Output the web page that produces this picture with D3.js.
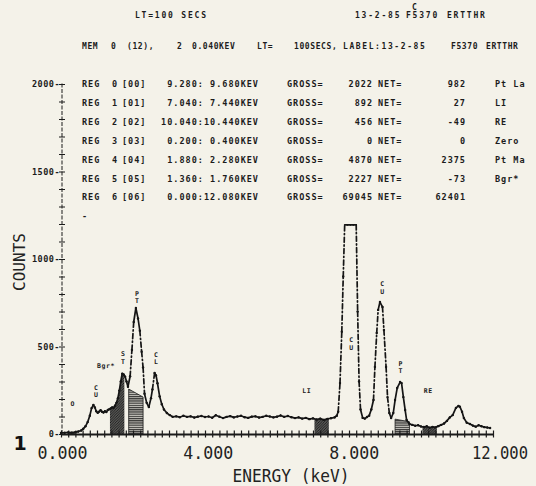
<!DOCTYPE html>
<html>
<head>
<meta charset="utf-8">
<script src="https://cdn.jsdelivr.net/npm/d3@7"></script>
<style>
  body { margin: 0; background: #f4f2e9; }
  svg { display: block; }
  .small { font-family: "DejaVu Sans Mono", monospace; font-weight: bold; font-size: 8.5px; letter-spacing: 1px; fill: #1c1c1c; white-space: pre; }
  .head { font-size: 8px; letter-spacing: 0.6px; }
  .wide { font-size: 8px; letter-spacing: 1.6px; }
  .top { font-size: 8px; letter-spacing: 1.8px; }
  .mark { font-size: 6.5px; letter-spacing: 0px; }
  .big { font-family: "DejaVu Sans Mono", monospace; fill: #222; }
</style>
</head>
<body>
<div id="chart"></div>
<script>
// spectrum: energy (keV) and counts per channel
const energy = [0.00,0.10,0.20,0.30,0.40,0.48,0.56,0.62,0.68,0.74,0.80,0.85,0.90,0.94,0.98,1.02,1.06,1.10,1.14,1.18,
  1.22,1.26,1.30,1.34,1.38,1.42,1.46,1.50,1.54,1.58,1.62,1.66,1.70,1.74,1.78,1.82,1.86,1.92,1.97,2.02,
  2.08,2.14,2.19,2.24,2.28,2.32,2.38,2.44,2.50,2.54,2.60,2.64,2.68,2.74,2.80,2.86,2.94,3.02,3.10,3.2,
  3.3,3.4,3.5,3.6,3.7,3.8,3.9,4.0,4.1,4.2,4.3,4.4,4.5,4.6,4.7,4.8,4.9,5.0,5.1,5.2,
  5.3,5.4,5.5,5.6,5.7,5.8,5.9,6.0,6.1,6.2,6.3,6.4,6.5,6.6,6.7,6.8,6.9,7.0,7.1,7.2,
  7.3,7.4,7.5,7.6,7.66,7.70,7.75,7.80,7.84,7.88,7.96,8.04,8.12,8.20,8.24,8.28,8.32,8.38,8.44,8.50,
  8.56,8.62,8.68,8.72,8.77,8.81,8.86,8.93,8.97,9.03,9.07,9.12,9.17,9.23,9.28,9.34,9.42,9.46,9.51,9.56,
  9.60,9.68,9.76,9.84,9.92,10.00,10.08,10.16,10.24,10.32,10.40,10.48,10.56,10.64,10.72,10.80,10.88,10.97,11.04,11.08,
  11.14,11.19,11.27,11.36,11.44,11.52,11.60,11.68,11.76,11.84,11.92];
const counts = [6,7,9,8,11,14,20,30,44,68,104,148,166,152,130,121,128,136,127,123,
  130,126,137,141,146,152,150,162,178,205,248,300,345,340,328,300,270,330,480,640,
  720,660,590,470,380,230,178,154,205,255,349,335,290,215,170,140,120,108,98,101,
  96,104,98,101,94,99,103,97,100,93,107,99,91,98,102,95,100,104,96,92,
  99,101,94,98,104,100,95,99,106,98,103,96,91,95,88,92,85,89,83,88,
  81,86,90,95,104,127,291,585,900,1500,2400,2800,2500,1600,700,300,140,92,88,97,
  105,140,194,383,577,709,754,726,594,383,211,120,91,120,194,263,297,291,211,137,
  80,57,52,47,50,43,40,44,36,41,38,45,52,60,75,95,108,149,160,156,
  127,91,65,57,48,42,50,44,39,37,34];
// the plotter clips the trace at this height
const displayMax = 1195;

// regions of interest (table rows)
const regLow = [9.28, 7.04, 10.04, 0.20, 1.88, 1.36, 0.00];
const regHigh = [9.68, 7.44, 10.44, 0.40, 2.28, 1.76, 12.08];
const regGross = [2022, 892, 456, 0, 4870, 2227, 69045];
const regNet = [982, 27, -49, 0, 2375, -73, 62401];
const regLabel = ["Pt La", "LI", "RE", "Zero", "Pt Ma", "Bgr*", ""];
const regShade = ["lines", "dark", "dark", "dark", "lines", "dark", "none"];
// top of the line-hatched peak windows, counts at low and high edge
const hatchTopLow = [85, 0, 0, 0, 257, 0, 0];
const hatchTopHigh = [70, 0, 0, 0, 211, 0, 0];

// element markers written on the trace
const peakNames = ["O", "CU", "Bgr*", "ST", "PT", "CL", "LI", "CU", "CU", "PT", "RE"];
const peakKeV = [0.33, 0.97, 1.25, 1.72, 2.11, 2.64, 6.83, 8.06, 8.92, 9.43, 10.2];
const peakCounts = [177, 246, 394, 440, 783, 437, 251, 520, 840, 383, 251];
const peakStacked = [false, true, false, true, true, true, false, true, true, true, false];

const xLabels = [0, 4, 8, 12];
const yLabels = [0, 500, 1000, 1500, 2000];

const width = 536;
const height = 486;

const svg = d3.select("#chart")
    .append("svg")
    .attr("width", width)
    .attr("height", height);

svg.append("rect").attr("width", width).attr("height", height).attr("fill", "#f4f2e9");

const xScale = d3.scaleLinear().domain([0, 12]).range([61, 493]);
const yScale = d3.scaleLinear().domain([0, 2000]).range([434, 84]);
// the tick numbers sit on a slightly wider grid than the trace
const xLabelScale = d3.scaleLinear().domain([0, 12]).range([62.5, 500]);

// hatch patterns
const defs = svg.append("defs");
const diag = defs.append("pattern").attr("id", "diag")
    .attr("patternUnits", "userSpaceOnUse").attr("width", 2.6).attr("height", 2.6);
diag.append("rect").attr("width", 2.6).attr("height", 2.6).attr("fill", "#6d6d6a");
diag.append("path").attr("d", "M-1,1 L1,-1 M0,2.6 L2.6,0 M1.6,3.6 L3.6,1.6")
    .attr("stroke", "#151515").attr("stroke-width", 0.9);
const horiz = defs.append("pattern").attr("id", "horiz")
    .attr("patternUnits", "userSpaceOnUse").attr("width", 4).attr("height", 2.2);
horiz.append("rect").attr("width", 4).attr("height", 2.2).attr("fill", "#c9c7c0");
horiz.append("line").attr("x1", 0).attr("x2", 4).attr("y1", 0.6).attr("y2", 0.6)
    .attr("stroke", "#1a1a1a").attr("stroke-width", 1);

// small helper for the printer text
const put = (sel, x, y, t, extra) => sel.append("text")
    .attr("class", extra ? "small " + extra : "small")
    .attr("x", x).attr("y", y).text(t);

// ---- header text ----
put(svg, 135, 18, "LT=100 SECS", "top");
put(svg, 355, 18, "13-2-85", "top");
put(svg, 406, 18, "F5370", "top");
put(svg, 447, 18, "ERTTHR", "top");
put(svg, 412, 10, "C", "top");

put(svg, 82, 49, "MEM", "head");
put(svg, 111, 49, "0", "head");
put(svg, 127, 49, "(12),", "head");
put(svg, 177, 49, "2", "head");
put(svg, 192, 49, "0.040KEV", "head");
put(svg, 257, 49, "LT=", "head");
put(svg, 294, 49, "100SECS,", "head");
put(svg, 343, 49, "LABEL:13-2-85", "wide");
put(svg, 451, 49, "F5370", "head");
put(svg, 486, 49, "ERTTHR", "head");

// ---- region table ----
const fmt3 = d3.format(".3f");
const rowY = i => 87 + i * 18.9;
const table = svg.append("g");
regLow.forEach((lo, i) => {
    const yy = rowY(i);
    put(table, 82, yy, "REG");
    put(table, 112, yy, String(i));
    put(table, 122, yy, `[0${i}]`);
    put(table, 259, yy, fmt3(lo).padStart(6) + ":" + fmt3(regHigh[i]).padStart(6) + "KEV").attr("text-anchor", "end");
    put(table, 287, yy, "GROSS=");
    put(table, 373, yy, String(regGross[i])).attr("text-anchor", "end");
    put(table, 378, yy, "NET=");
    put(table, 466, yy, String(regNet[i])).attr("text-anchor", "end");
    put(table, 495, yy, regLabel[i]);
});
put(svg, 82, rowY(7), "-");

// ---- shaded windows ----
const spectrum = energy.map((e, i) => ({ e: e, c: Math.min(counts[i], displayMax) }));
const areaGen = d3.area()
    .x(d => xScale(d.e))
    .y0(yScale(0))
    .y1(d => yScale(d.c));

const roiG = svg.append("g");
regLow.forEach((lo, i) => {
    if (regShade[i] === "dark") {
        defs.append("clipPath").attr("id", "roi-" + i)
            .append("rect")
            .attr("x", xScale(lo)).attr("y", 0)
            .attr("width", xScale(regHigh[i]) - xScale(lo)).attr("height", yScale(0));
        roiG.append("path")
            .attr("d", areaGen(spectrum))
            .attr("fill", "url(#diag)")
            .attr("clip-path", `url(#roi-${i})`);
    } else if (regShade[i] === "lines") {
        roiG.append("path")
            .attr("d", areaGen([{ e: lo, c: hatchTopLow[i] }, { e: regHigh[i], c: hatchTopHigh[i] }]))
            .attr("fill", "url(#horiz)")
            .attr("stroke", "#1a1a1a")
            .attr("stroke-width", 0.8);
    }
});

// ---- axes ----
const bottomAxis = d3.axisBottom(xScale)
    .tickValues(d3.range(0, 61).map(k => k * 0.2))
    .tickSize(3.5)
    .tickSizeOuter(0)
    .tickFormat("");
const xAxisG = svg.append("g")
    .attr("transform", `translate(0, ${yScale(0)})`)
    .call(bottomAxis);
xAxisG.select(".domain").attr("stroke", "#1a1a1a").attr("stroke-width", 1.8);
xAxisG.selectAll(".tick line").attr("y1", -3.5).attr("y2", 3.5)
    .attr("stroke", "#1a1a1a").attr("stroke-width", 1.2);

const leftAxis = d3.axisLeft(yScale)
    .tickValues(d3.range(0, 21).map(k => k * 100))
    .tickSize(3)
    .tickSizeOuter(0)
    .tickPadding(1)
    .tickFormat(d => yLabels.includes(d) ? d + "-" : "");
const yAxisG = svg.append("g")
    .attr("transform", `translate(${xScale(0) + 1}, 0)`)
    .call(leftAxis);
yAxisG.select(".domain").attr("stroke", "#1a1a1a").attr("stroke-width", 1)
    .attr("stroke-dasharray", "4,1.5")
    .attr("d", `M0,${yScale(0)}V${yScale(2010)}`);
yAxisG.selectAll(".tick line").attr("x1", -3).attr("x2", 3)
    .attr("stroke", "#1a1a1a").attr("stroke-width", 1);
yAxisG.selectAll(".tick text").attr("class", "small").attr("font-size", null)
    .attr("font-family", null).style("letter-spacing", "0.5px").attr("x", -2);

// ---- spectrum trace ----
const lineGen = d3.line().x(d => xScale(d.e)).y(d => yScale(d.c));
const traceG = svg.append("g");
traceG.selectAll("path")
    .data(d3.pairs(spectrum))
    .join("path")
        .attr("d", d => lineGen(d))
        .attr("fill", "none")
        .attr("stroke", "#151515")
        .attr("stroke-width", 1.7)
        .attr("stroke-linecap", "round")
        .attr("stroke-dasharray", d => Math.abs(yScale(d[0].c) - yScale(d[1].c)) > 14 ? "5,2.6,1.2,2.6" : null);
traceG.selectAll("circle")
    .data(spectrum.filter(d => d.c < displayMax))
    .join("circle")
        .attr("cx", d => xScale(d.e))
        .attr("cy", d => yScale(d.c))
        .attr("r", 1.2)
        .attr("fill", "#151515");

// ---- element markers (two-letter symbols are written one above the other) ----
const markG = svg.append("g");
peakNames.forEach((name, i) => {
    const cx = xScale(peakKeV[i]);
    const cy = yScale(peakCounts[i]);
    if (peakStacked[i]) {
        put(markG, cx, cy - 1, name[0], "mark").attr("text-anchor", "middle");
        put(markG, cx, cy + 6.5, name[1], "mark").attr("text-anchor", "middle");
    } else {
        put(markG, cx, cy + 2.5, name, "mark").attr("text-anchor", "middle")
            .style("letter-spacing", "0.6px");
    }
});

// ---- big labels ----
xLabels.forEach(v => {
    svg.append("text").attr("class", "big")
        .attr("x", xLabelScale(v)).attr("y", 459)
        .attr("text-anchor", "middle")
        .attr("font-size", 18)
        .attr("textLength", v >= 10 ? 56 : 50)
        .attr("lengthAdjust", "spacingAndGlyphs")
        .text(fmt3(v));
});
svg.append("text").attr("class", "big")
    .attr("x", 291).attr("y", 482)
    .attr("text-anchor", "middle")
    .attr("font-size", 18)
    .attr("textLength", 117)
    .attr("lengthAdjust", "spacingAndGlyphs")
    .text("ENERGY (keV)");
svg.append("text").attr("class", "big")
    .attr("transform", "translate(25, 262) rotate(-90)")
    .attr("text-anchor", "middle")
    .attr("font-size", 15)
    .attr("textLength", 58)
    .attr("lengthAdjust", "spacingAndGlyphs")
    .text("COUNTS");
svg.append("text")
    .attr("x", 20).attr("y", 450)
    .attr("text-anchor", "middle")
    .attr("font-family", "DejaVu Sans, sans-serif")
    .attr("font-weight", "bold")
    .attr("font-size", 19)
    .attr("fill", "#111")
    .text("1");
</script>
</body>
</html>
